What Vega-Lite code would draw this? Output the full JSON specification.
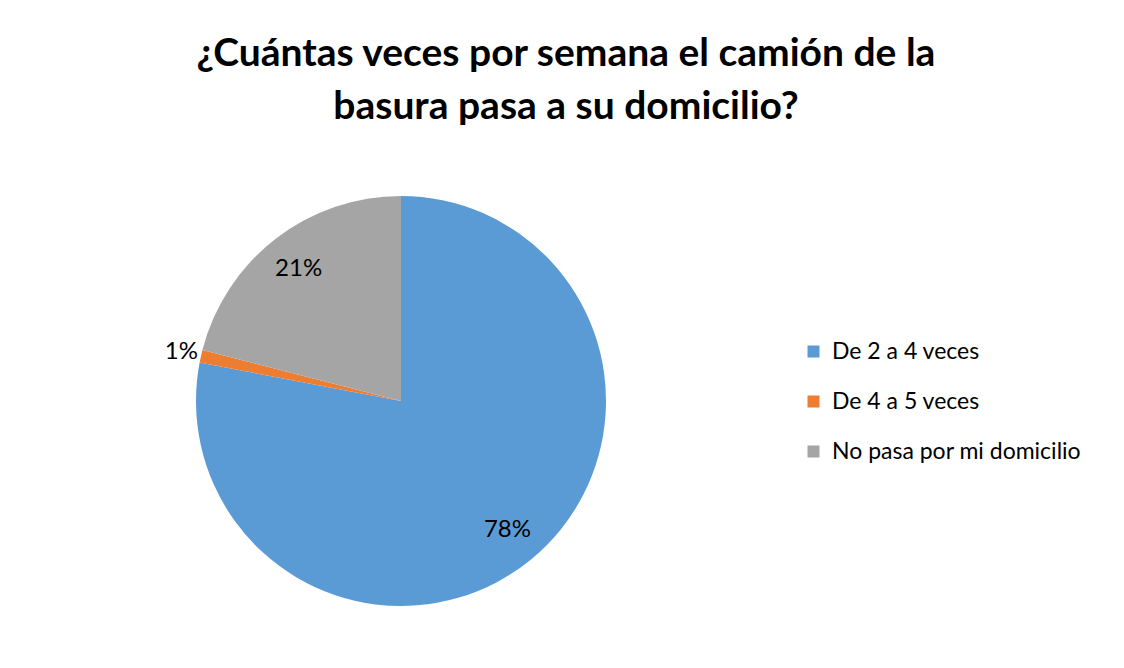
{
  "$schema": "https://vega.github.io/schema/vega-lite/v6.json",
  "autosize": "none",
  "width": 500,
  "height": 410,
  "padding": {"left": 151, "top": 196, "right": 473, "bottom": 62},
  "background": "white",
  "title": {
    "text": ["¿Cuántas veces por semana el camión de la", "basura pasa a su domicilio?"],
    "font": "Lato",
    "fontSize": 39,
    "fontWeight": "bold",
    "color": "#000000",
    "anchor": "middle",
    "frame": "group",
    "dx": 165,
    "offset": 69,
    "lineHeight": 53
  },
  "data": {
    "values": [
      {"categoria": "De 2 a 4 veces", "porcentaje": 0.78},
      {"categoria": "De 4 a 5 veces", "porcentaje": 0.01},
      {"categoria": "No pasa por mi domicilio", "porcentaje": 0.21}
    ]
  },
  "encoding": {
    "theta": {"field": "porcentaje", "type": "quantitative", "stack": true},
    "order": {"field": "categoria", "type": "nominal", "sort": "ascending"}
  },
  "layer": [
    {
      "mark": {"type": "arc", "outerRadius": 205, "strokeWidth": 0},
      "encoding": {
        "color": {
          "field": "categoria",
          "type": "nominal",
          "scale": {
            "domain": ["De 2 a 4 veces", "De 4 a 5 veces", "No pasa por mi domicilio"],
            "range": ["#5B9BD5", "#ED7D31", "#A5A5A5"]
          },
          "legend": {
            "title": null,
            "orient": "none",
            "legendX": 651,
            "legendY": 144,
            "padding": 0,
            "symbolType": "square",
            "symbolSize": 144,
            "symbolStrokeWidth": 0,
            "labelFont": "Lato",
            "labelFontSize": 23,
            "labelColor": "#000000",
            "labelOffset": 7,
            "rowPadding": 26,
            "labelLimit": 400
          }
        }
      }
    },
    {
      "mark": {"type": "text", "radius": 167, "font": "Lato", "fontSize": 24, "color": "#000000"},
      "encoding": {
        "text": {"field": "porcentaje", "type": "quantitative", "format": ".0%"},
        "detail": {"field": "categoria"},
        "opacity": {"condition": {"test": "datum.porcentaje >= 0.05", "value": 1}, "value": 0}
      }
    },
    {
      "mark": {"type": "text", "radius": 225, "font": "Lato", "fontSize": 24, "color": "#000000"},
      "encoding": {
        "text": {"field": "porcentaje", "type": "quantitative", "format": ".0%"},
        "detail": {"field": "categoria"},
        "opacity": {"condition": {"test": "datum.porcentaje < 0.05", "value": 1}, "value": 0}
      }
    }
  ]
}
